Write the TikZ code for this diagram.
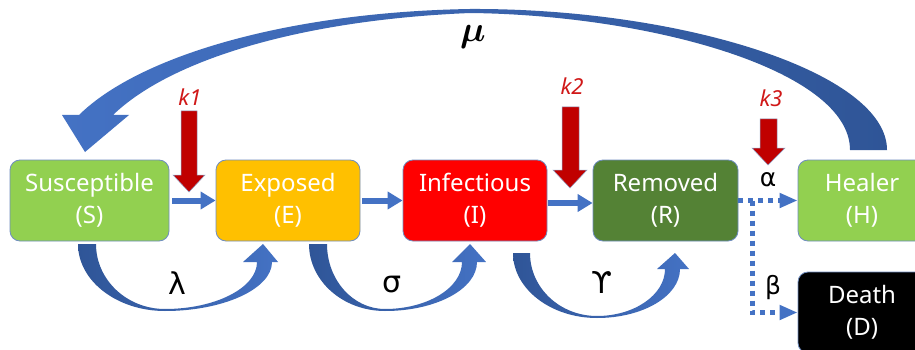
\documentclass[tikz,border=0pt]{standalone}
\usepackage{amsmath}
\usepackage{fontspec}
\setmainfont{Noto Sans}
\newfontfamily\grk{DejaVu Sans}
\usetikzlibrary{arrows.meta}
\definecolor{cS}{HTML}{92D050}
\definecolor{cE}{HTML}{FFC000}
\definecolor{cI}{HTML}{FF0000}
\definecolor{cR}{HTML}{548235}
\definecolor{boxline}{HTML}{6F8DC0}
\definecolor{flowblue}{HTML}{4472C4}
\definecolor{blueL}{HTML}{4472C4}
\definecolor{blueD}{HTML}{2F5597}
\definecolor{kdark}{HTML}{C00000}
\definecolor{kred}{HTML}{D01818}
\definecolor{redline}{HTML}{8FA3C8}
\tikzset{
  box/.style={draw=boxline, line width=0.8pt, rounded corners=10pt, text=white,
    align=center, inner sep=0pt, font=\fontsize{24}{32}\selectfont},
  flow/.style={line width=6pt, color=flowblue, -{Triangle[length=15pt,width=17pt]}},
  dotflow/.style={line width=5pt, color=flowblue, dash pattern=on 5pt off 5pt,
    -{Triangle[length=18pt,width=14pt]}},
  klabel/.style={text=kred, font=\itshape\fontsize{22}{22}\selectfont, inner sep=0pt},
  greekbig/.style={font=\grk\fontsize{30}{30}\selectfont, inner sep=0pt},
  greeksmall/.style={font=\grk\fontsize{25}{25}\selectfont, inner sep=0pt},
  redarrow/.style={fill=kdark, draw=redline, line width=0.5pt},
  swirlR/.style={left color=blueD, right color=blueL},
  swirlL/.style={left color=blueL, right color=blueD}
}
\begin{document}
\begin{tikzpicture}[x=1pt,y=-1pt]
\useasboundingbox (0,0) rectangle (915,350);
\fill[white] (0,0) rectangle (915,350);
\clip (0,0) rectangle (915,350);

% boxes
\node[box, fill=cS, minimum width=159pt, minimum height=81pt] (S) at (89.5,200.5) {Susceptible\\(S)};
\node[box, fill=cE, minimum width=144pt, minimum height=81pt] (E) at (288,200.5) {Exposed\\(E)};
\node[box, fill=cI, minimum width=144pt, minimum height=81pt] (I) at (475,200.5) {Infectious\\(I)};
\node[box, fill=cR, minimum width=145pt, minimum height=81pt] (R) at (665.5,200.5) {Removed\\(R)};
\node[box, fill=cS, minimum width=128pt, minimum height=81pt] (H) at (862,200.5) {Healer\\(H)};
\node[box, fill=black, minimum width=128pt, minimum height=81pt] (D) at (862,312.5) {Death\\(D)};

% straight flows
\draw[flow] ([xshift=3pt]S.east) -- (E.west);
\draw[flow] ([xshift=2pt]E.east) -- (I.west);
\draw[flow] ([xshift=1pt,yshift=-2.5pt]I.east) -- ([yshift=-2.5pt]R.west);

% dotted flows
\coordinate (br) at (752,200.5);
\draw[dotflow] (R.east) -- (H.west);
\draw[dotflow] (br) |- (D.west);

% red intervention arrows
\node[klabel] (k1) at (190,97) {k1};
\node[klabel] (k2) at (572,86) {k2};
\node[klabel] (k3) at (771,98) {k3};
\filldraw[redarrow] (181,111) -- (197,111) -- (197,175) -- (205,175) -- (189,192) -- (173,175) -- (181,175) -- cycle;
\filldraw[redarrow] (562,107) -- (579,107) -- (579,170) -- (587,170) -- (570,188) -- (553,170) -- (562,170) -- cycle;
\filldraw[redarrow] (760,119) -- (777,119) -- (777,148) -- (785,148) -- (768,165) -- (752,148) -- (760,148) -- cycle;

% curved lower arrows
\shade[swirlR] (78,244) .. controls (78,281) and (117,311) .. (165,311)
  .. controls (223,311) and (272,289) .. (272,262) -- (278,262) -- (263,244) -- (243,262) -- (257,262)
  .. controls (257,288) and (215,309) .. (165,309)
  .. controls (127,309) and (96,280) .. (96,244) -- cycle;
\shade[swirlR] (309,244) .. controls (309,281) and (343,311) .. (385,311)
  .. controls (436,311) and (477,289) .. (477,262) -- (486,262) -- (470,244) -- (452,262) -- (462,262)
  .. controls (462,288) and (427,309) .. (385,309)
  .. controls (353,309) and (327,280) .. (327,244) -- cycle;
\shade[swirlR] (513,253) .. controls (513,289) and (551,318) .. (597,318)
  .. controls (643,318) and (680,296) .. (680,269) -- (689,269) -- (675,253) -- (657,269) -- (665,269)
  .. controls (665,295) and (634,316) .. (597,316)
  .. controls (560,316) and (530,288) .. (530,253) -- cycle;

% big mu arrow from H back to S
\shade[swirlL] (85,152) -- (129,115) -- (113,115)
  .. controls (170,60) and (300,20) .. (470,13)
  .. controls (650,15) and (850,70) .. (850,150) -- (887,150)
  .. controls (887,72) and (680,8) .. (470,9)
  .. controls (290,12) and (140,55) .. (79,115) -- (62,115) -- cycle;

% labels
\node[scale=1.45, inner sep=0pt] (mu) at (473,37) {\fontsize{24.88}{26}\selectfont$\boldsymbol{\mu}$};
\node[greekbig] (lam) at (177,283) {λ};
\node[greekbig] (sig) at (392,285) {σ};
\node[greekbig] (gam) at (602,282) {ϒ};
\node[greeksmall] (alp) at (768,180) {α};
\node[greeksmall] (bet) at (773,288) {β};
\end{tikzpicture}
\end{document}
